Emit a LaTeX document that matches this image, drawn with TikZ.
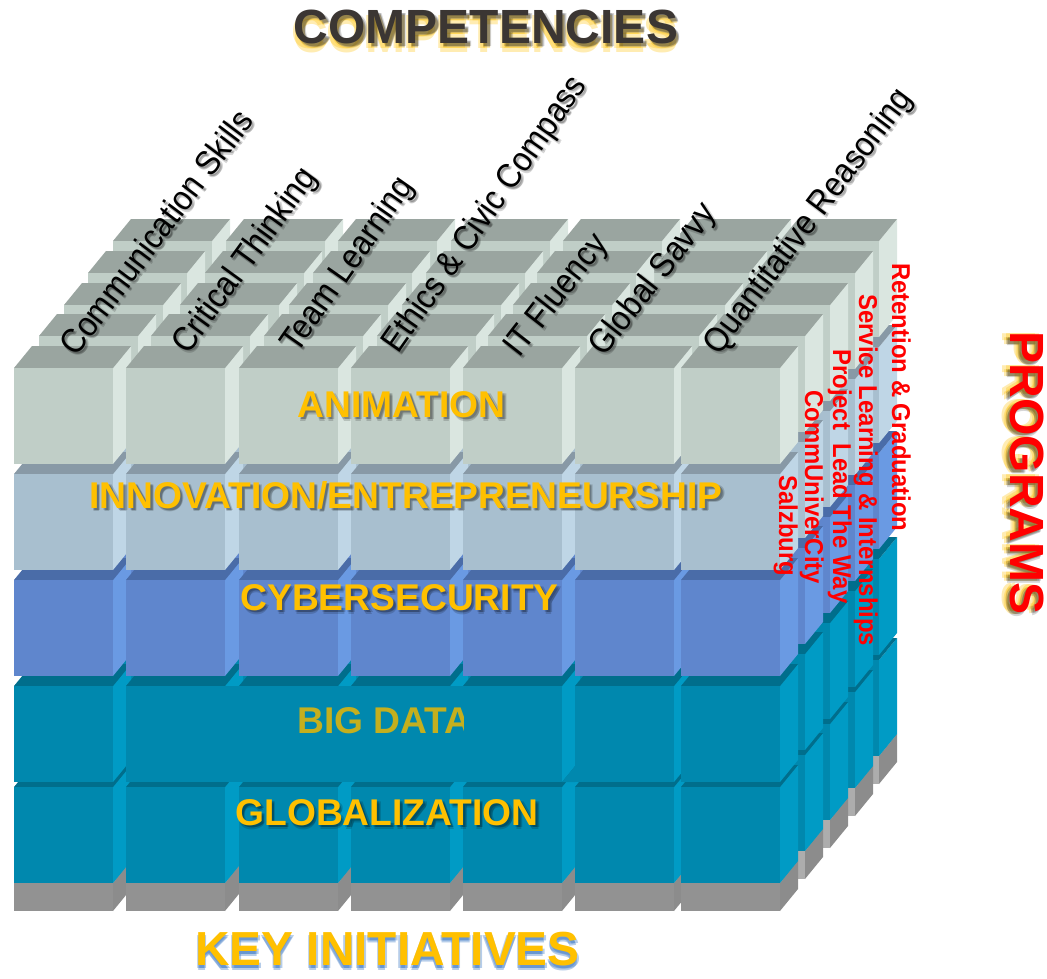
\documentclass[tikz,border=0pt]{standalone}
\usepackage{fontspec}
\setmainfont{Liberation Sans}
\definecolor{aF}{HTML}{C0CEC7}\definecolor{aS}{HTML}{DAE6E0}\definecolor{aT}{HTML}{9AA5A0}
\definecolor{iF}{HTML}{A8BFCF}\definecolor{iS}{HTML}{BFD6E6}\definecolor{iT}{HTML}{8899A6}
\definecolor{cF}{HTML}{5F86CD}\definecolor{cS}{HTML}{6A9AE3}\definecolor{cT}{HTML}{4A6CA8}
\definecolor{bF}{HTML}{0088AE}\definecolor{bS}{HTML}{009BC5}\definecolor{bT}{HTML}{006E8C}
\definecolor{gF}{HTML}{929292}\definecolor{gS}{HTML}{8C8C8C}\definecolor{gL}{HTML}{ADADAD}
\definecolor{gold}{HTML}{FFC000}\definecolor{dgold}{HTML}{C4AF1E}
\definecolor{darktitle}{HTML}{3B3633}\definecolor{blueglow}{HTML}{2F6FC0}
\newcommand\blk[6]{%
  \fill[#5] ({#1+99},{#2}) -- ({#1+117},{#2-22}) -- ({#1+117},{#2-22+#3}) -- ({#1+99},{#2+#3}) -- cycle;
  \fill[#6] ({#1},{#2}) -- ({#1+18},{#2-22}) -- ({#1+117},{#2-22}) -- ({#1+99},{#2}) -- cycle;
  \fill[#4] ({#1},{#2}) rectangle ({#1+99},{#2+#3});}
\newcommand\colm[3]{%
  \blk{#1}{883-#2}{28}{#3}{gS}{gS}%
  \blk{#1}{787-#2}{96}{bF}{bS}{bT}%
  \blk{#1}{686-#2}{96}{bF}{bS}{bT}%
  \blk{#1}{580-#2}{96}{cF}{cS}{cT}%
  \blk{#1}{474-#2}{96}{iF}{iS}{iT}%
  \blk{#1}{368-#2}{96}{aF}{aS}{aT}}
\newcommand\halo[5]{\foreach \a in {90,210,330}{%
  \node[rotate=\currot,yscale=\curys,inner sep=0pt,text=#4,text opacity=#5,font=\curfont]
    at ({\curx+#1+#3*cos(\a)},{\cury+#2+#3*sin(\a)}) {\curtext};}}
\newcommand\settext[4]{\def\curx{#1}\def\cury{#2}\def\currot{#3}\def\curtext{#4}}
\newcommand\fsz[1]{\fontsize{#1}{#1}\selectfont}
\def\curys{1}
\tikzset{main/.style={inner sep=0pt,font=\curfont,rotate=\currot,yscale=\curys},
  redlab/.style={inner sep=0pt,rotate=-90,yscale=1.08,anchor=base west,text=red,font=\fsz{23.9}\bfseries}}
\begin{document}
\begin{tikzpicture}[x=1pt,y=-1pt]
\useasboundingbox (0,0) rectangle (1047,978);
% rows, back to front
\foreach \xa/\xb/\xc/\xd/\xe/\xf/\xg/\dy in {113/226/338/451/563/674/780/127,88/205/313/426/537/650/756/95,64/180/289/402/513/626/731/63,39/151/264/377/488/600/706/32}{
  \colm{\xa}{\dy}{gL}\colm{\xb}{\dy}{gL}\colm{\xc}{\dy}{gL}\colm{\xd}{\dy}{gL}
  \colm{\xf}{\dy}{gL}\colm{\xe}{\dy}{gL}\colm{\xg}{\dy}{gL}
}
\foreach \x in {14,126,239,351,463,575,681}{\colm{\x}{0}{gF}}
% patch behind BIG DATA
\fill[bF] (225,686) rectangle (463,782);
\fill[bF] (562,782) -- (575,782) -- (575,766) -- cycle;
% layer labels
\def\curfont{\fsz{37.2}\bfseries}
\settext{401.5}{405}{0}{ANIMATION}\halo{2.5}{2.5}{1}{black}{0.16}
\node[main,text=gold] (animation) at (\curx,\cury) {\curtext};
\settext{406}{495}{0}{INNOVATION/ENTREPRENEURSHIP}\halo{2.5}{2.5}{1}{black}{0.16}
\node[main,text=gold] (innovation) at (\curx,\cury) {\curtext};
\settext{399.5}{598}{0}{CYBERSECURITY}\halo{2.5}{2.5}{1}{black}{0.16}
\node[main,text=gold] (cyber) at (\curx,\cury) {\curtext};
\begin{scope}
\clip (280,690) rectangle (463,750);
\node[inner sep=0pt,anchor=base west,text=dgold,font=\curfont] (bigdata) at (297,733) {BIG DATA};
\end{scope}
\settext{387}{813}{0}{GLOBALIZATION}\halo{2.5}{2.5}{1}{black}{0.16}
\node[main,text=gold] (globalization) at (\curx,\cury) {\curtext};
% competencies
\def\curfont{\fsz{31}}\def\curys{1.12}
\settext{156}{232}{53}{Communication Skills}\halo{2}{2}{1}{black}{0.16}
\node[main] (comm) at (\curx,\cury) {\curtext};
\settext{246}{261}{54}{Critical Thinking}\halo{2}{2}{1}{black}{0.16}
\node[main] (crit) at (\curx,\cury) {\curtext};
\settext{348.5}{265.5}{55}{Team Learning}\halo{2}{2}{1}{black}{0.16}
\node[main] (team) at (\curx,\cury) {\curtext};
\settext{486}{215}{55}{Ethics \& Civic Compass}\halo{2}{2}{1}{black}{0.16}
\node[main] (ethics) at (\curx,\cury) {\curtext};
\settext{557}{296}{52}{IT Fluency}\halo{2}{2}{1}{black}{0.16}
\node[main] (it) at (\curx,\cury) {\curtext};
\settext{654}{280}{52}{Global Savvy}\halo{2}{2}{1}{black}{0.16}
\node[main] (global) at (\curx,\cury) {\curtext};
\settext{809}{222}{53}{Quantitative Reasoning}\halo{2}{2}{1}{black}{0.16}
\node[main] (quant) at (\curx,\cury) {\curtext};
\def\curys{1}
% programmes
\node[redlab] (ret) at (892,263) {Retention \& Graduation};
\node[redlab] (serv) at (859,294) {Service Learning \& Internships};
\node[redlab] (proj) at (833,349) {Project \ Lead The Way};
\node[redlab] (commu) at (805,390) {CommUniverCity};
\node[redlab] (salz) at (779,475) {Salzburg};
% titles
\def\curfont{\fsz{48}\bfseries}
\settext{486}{27}{0}{COMPETENCIES}
\halo{0}{6}{2.5}{gold}{0.3}\halo{3}{3}{1}{black}{0.16}
\node[main,text=darktitle] (comp) at (\curx,\cury) {\curtext};
\settext{1027}{473}{-90}{PROGRAMS}
\halo{-6}{0}{2.5}{gold}{0.3}\halo{-3}{3}{1}{black}{0.16}
\node[main,text=red] (prog) at (\curx,\cury) {\curtext};
\def\curfont{\fsz{47.8}\bfseries}
\settext{387.5}{949}{0}{KEY INITIATIVES}
\halo{0}{4}{1.5}{blueglow}{0.35}
\node[main,text=gold] (key) at (\curx,\cury) {\curtext};
\end{tikzpicture}
\end{document}
